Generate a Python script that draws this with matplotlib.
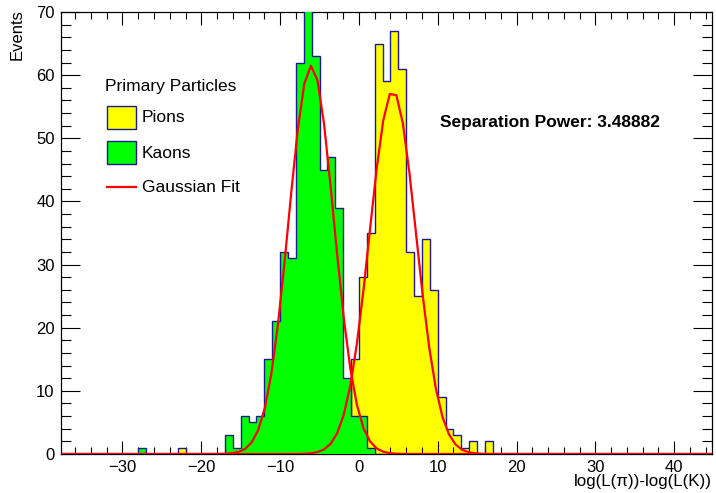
import numpy as np
import matplotlib
matplotlib.use('Agg')
import matplotlib.pyplot as plt
from matplotlib.patches import Rectangle
from matplotlib.ticker import MultipleLocator

plt.rcParams['font.family'] = ['Liberation Sans', 'DejaVu Sans']

# [1] histogram contents, 1 unit bins, first bin left edge given
kaon_first = -28
kaon_counts = [1, 0, 0, 0, 0, 0, 0, 0, 0, 0, 0, 3, 1, 6, 5, 6, 15, 21, 32, 31,
               62, 73, 63, 45, 47, 39, 12, 6, 6, 1]
pion_first = -23
pion_counts = [1, 0, 0, 0, 0, 0, 0, 0, 0, 0, 0, 0, 0, 0, 0, 0, 0, 0, 0, 0,
               0, 3, 15, 28, 35, 65, 59, 67, 61, 32, 25, 34, 26, 9, 4, 3, 1, 2, 0, 2]

# [2] gaussian fit parameters (amplitude, mean, sigma)
kaon_fit = (61.5, -6.05, 2.85)
pion_fit = (57.5, 4.3, 2.95)
sep_power = 3.48882

legend_title = 'Primary Particles'
legend_labels = ['Pions', 'Kaons', 'Gaussian Fit']

# [3] axis range
xmin, xmax = -37.8, 44.8
ymax = 70

yellow = '#ffff00'
green = '#00ff00'
edge = '#1a1a99'
red = '#ff0000'


def full_hist(first, counts):
    # pad with zeros so the outline runs along the whole axis
    edges = np.arange(int(np.floor(xmin)), int(np.ceil(xmax)) + 1)
    vals = np.zeros(len(edges) - 1)
    i0 = first - edges[0]
    vals[i0:i0 + len(counts)] = counts
    return edges, vals


def gauss(x, p):
    a, m, s = p
    return a * np.exp(-0.5 * ((x - m) / s) ** 2)


W, H = 716, 493
fig = plt.figure(figsize=(W/100, H/100), dpi=100)
ax = fig.add_axes([61/W, 1 - 454/H, 651/W, 442/H])


def axpos(px, py):
    # figure pixel (from top-left) -> axes fraction
    return (px - 61) / 651, (454 - py) / 442


e, v = full_hist(pion_first, pion_counts)
ax.stairs(v, e, fill=True, color=yellow, zorder=1)
ax.stairs(v, e, color=edge, lw=1, zorder=2)
e, v = full_hist(kaon_first, kaon_counts)
ax.stairs(v, e, fill=True, color=green, zorder=3)
ax.stairs(v, e, color=edge, lw=1, zorder=4)

# fit functions drawn like ROOT: 100 points over the range
xf = np.linspace(xmin, xmax, 100)
ax.plot(xf, gauss(xf, pion_fit), color=red, lw=1.6, zorder=5)
ax.plot(xf, gauss(xf, kaon_fit), color=red, lw=1.6, zorder=5)

ax.set_xlim(xmin, xmax)
ax.set_ylim(0, ymax)

ax.xaxis.set_major_locator(MultipleLocator(10))
ax.xaxis.set_minor_locator(MultipleLocator(2))
ax.yaxis.set_major_locator(MultipleLocator(10))
ax.yaxis.set_minor_locator(MultipleLocator(2))
ax.tick_params(axis='x', which='major', direction='in', length=9.4, width=0.8,
               top=True, labelsize=12, pad=4)
ax.tick_params(axis='x', which='minor', direction='in', length=4.7, width=0.8, top=True)
ax.tick_params(axis='y', which='major', direction='in', length=14, width=0.8,
               right=True, labelsize=12, pad=4.5)
ax.tick_params(axis='y', which='minor', direction='in', length=7, width=0.8, right=True)
for sp in ax.spines.values():
    sp.set_linewidth(0.9)

ax.set_xlabel('log(L(\u03c0))-log(L(K))', fontsize=12.2, ha='right')
ax.xaxis.set_label_coords(1.0, -0.045)
fig.text(17/W, 1 - 9/H, 'Events', rotation=90, ha='center', va='top', fontsize=12)

ax.text(*axpos(440, 123), 'Separation Power: %g' % sep_power,
        transform=ax.transAxes, fontsize=12.5, fontweight='bold', va='center')

# legend, drawn by hand in the ROOT TLegend layout
ax.text(*axpos(105, 86), legend_title, transform=ax.transAxes, fontsize=12.5, va='center')
box_x0, box_y0 = axpos(107, 129)
box_x1, box_y1 = axpos(136, 106)
bw, bh = box_x1 - box_x0, box_y1 - box_y0
for i, fc in enumerate([yellow, green]):
    dy = i * 35 / 442
    ax.add_patch(Rectangle((box_x0, box_y0 - dy), bw, bh, transform=ax.transAxes,
                           facecolor=fc, edgecolor=edge, lw=1, zorder=6))
lx0, ly = axpos(107, 187)
lx1, _ = axpos(136, 187)
ax.plot([lx0, lx1], [ly, ly], transform=ax.transAxes, color=red, lw=1.6, zorder=6)
for lab, py in zip(legend_labels, [118, 153, 188]):
    ax.text(*axpos(142, py), lab, transform=ax.transAxes, fontsize=12.5, va='center')

plt.savefig('out.png', dpi=100)
